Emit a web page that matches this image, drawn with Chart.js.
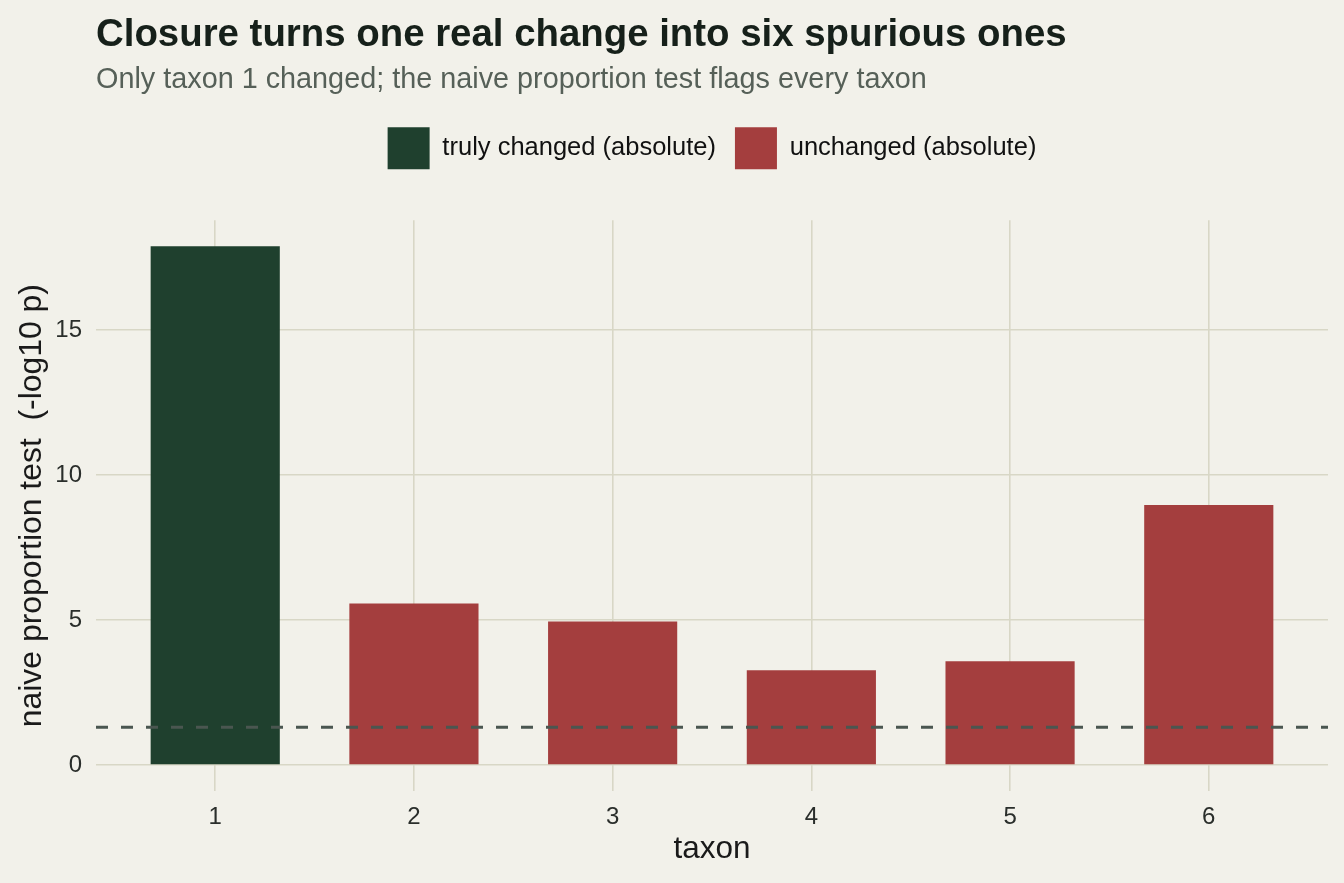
<!DOCTYPE html>
<html>
<head>
<meta charset="utf-8">
<script src="https://cdn.jsdelivr.net/npm/chart.js@4.4.1/dist/chart.umd.min.js"></script>
<style>
  html, body { margin: 0; padding: 0; background: #F2F1EA; }
  #wrap { width: 1344px; height: 883px; position: relative; }
</style>
</head>
<body>
<div id="wrap"><canvas id="c"></canvas></div>
<script>
// ---- data ----
const taxa = [1, 2, 3, 4, 5, 6];
const taxonLabels = ['1', '2', '3', '4', '5', '6'];
const negLog10P = [17.9, 5.57, 4.95, 3.27, 3.58, 8.97];
const trulyChanged = [true, false, false, false, false, false];
const seriesNames = ['truly changed (absolute)', 'unchanged (absolute)'];
const yTicks = [0, 5, 10, 15];
const threshold = 1.301; // -log10(0.05)

// ---- axis ranges (ggplot-like expansion) ----
const xMin = 0.4, xMax = 6.6;
const yExpand = Math.max(...negLog10P) * 0.05;
const yMin = -yExpand, yMax = Math.max(...negLog10P) + yExpand;

const FONT = "'Liberation Sans', Arial, Helvetica, sans-serif";
const GRID = '#D8D7C6';
const BG = '#F2F1EA';

const changedData = taxa.map((t, i) => trulyChanged[i] ? { x: t, y: negLog10P[i] } : null).filter(Boolean);
const unchangedData = taxa.map((t, i) => !trulyChanged[i] ? { x: t, y: negLog10P[i] } : null).filter(Boolean);
const thresholdData = [{ x: xMin, y: threshold }, { x: xMax, y: threshold }];

const bgPlugin = {
  id: 'bg',
  beforeDraw(chart) {
    const ctx = chart.ctx;
    ctx.save();
    ctx.fillStyle = BG;
    ctx.fillRect(0, 0, chart.width, chart.height);
    ctx.restore();
  }
};

new Chart(document.getElementById('c'), {
  type: 'bar',
  data: {
    datasets: [
      {
        label: seriesNames[0],
        data: changedData,
        backgroundColor: '#1F402E',
        borderWidth: 0,
        grouped: false,
        categoryPercentage: 1,
        barPercentage: 0.65,
        xAxisID: 'x', yAxisID: 'y',
        order: 1
      },
      {
        label: seriesNames[1],
        data: unchangedData,
        backgroundColor: '#A43E3E',
        borderWidth: 0,
        grouped: false,
        categoryPercentage: 1,
        barPercentage: 0.65,
        xAxisID: 'x', yAxisID: 'y',
        order: 1
      },
      {
        type: 'line',
        label: 'threshold',
        data: thresholdData,
        borderColor: '#4A5650',
        borderWidth: 3,
        borderDash: [12, 13],
        pointRadius: 0,
        fill: false,
        xAxisID: 'x', yAxisID: 'y',
        order: 0
      }
    ]
  },
  options: {
    responsive: true,
    maintainAspectRatio: false,
    animation: false,
    layout: { padding: { left: 0, right: 16, top: 0, bottom: 0 } },
    plugins: {
      title: {
        display: true,
        text: 'Closure turns one real change into six spurious ones',
        align: 'start',
        fullSize: false,
        color: '#16201A',
        font: { family: FONT, size: 38.4, weight: 'bold' },
        padding: { top: 12, bottom: 0 }
      },
      subtitle: {
        display: true,
        text: 'Only taxon 1 changed; the naive proportion test flags every taxon',
        align: 'start',
        fullSize: false,
        color: '#566058',
        font: { family: FONT, size: 28.8 },
        padding: { top: 5, bottom: 10.6 }
      },
      legend: {
        display: true,
        position: 'top',
        align: 'center',
        fullSize: false,
        labels: {
          boxWidth: 42,
          boxHeight: 42,
          padding: 19,
          color: '#111111',
          font: { family: FONT, size: 25.5 },
          filter: (item) => item.datasetIndex < 2
        }
      },
      tooltip: { enabled: false }
    },
    scales: {
      x: {
        type: 'linear',
        position: 'bottom',
        min: xMin,
        max: xMax,
        offset: false,
        afterBuildTicks: (s) => { s.ticks = taxa.map(v => ({ value: v })); },
        ticks: {
          callback: (v) => { const i = taxa.indexOf(v); return i >= 0 ? taxonLabels[i] : ''; },
          color: '#2A2E2B',
          font: { family: FONT, size: 24 },
          padding: 12,
          maxRotation: 0,
          autoSkip: false
        },
        grid: { color: GRID, lineWidth: 1.6, drawTicks: false, offset: false },
        border: { display: false },
        title: {
          display: true,
          text: 'taxon',
          color: '#1A1A1A',
          font: { family: FONT, size: 31.5 },
          padding: { top: 0, bottom: 15 }
        },
        afterFit: (s) => { s.height = 92; }
      },
      y: {
        type: 'linear',
        position: 'left',
        min: yMin,
        max: yMax,
        afterBuildTicks: (s) => { s.ticks = yTicks.map(v => ({ value: v })); },
        ticks: {
          color: '#2A2E2B',
          font: { family: FONT, size: 24 },
          padding: 14
        },
        grid: { color: GRID, lineWidth: 1.6, drawTicks: false },
        border: { display: false },
        title: {
          display: true,
          text: 'naive proportion test  (-log10 p)',
          color: '#1A1A1A',
          font: { family: FONT, size: 31.9 },
          padding: { top: 13.2, bottom: 0 }
        },
        afterFit: (s) => { s.width = 96; }
      },
      xTop: {
        type: 'linear',
        axis: 'x',
        position: 'top',
        display: true,
        offset: false,
        grid: { display: false },
        border: { display: false },
        ticks: { display: false },
        afterFit: (s) => { s.height = 41; }
      }
    }
  },
  plugins: [bgPlugin]
});
</script>
</body>
</html>
